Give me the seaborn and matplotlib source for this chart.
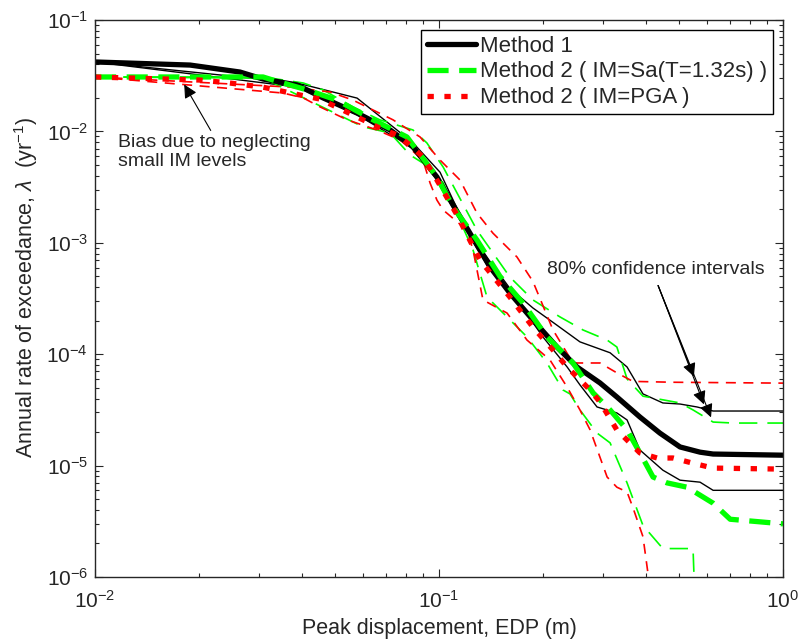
import matplotlib
matplotlib.use("Agg")
import matplotlib.pyplot as plt
import seaborn as sns

# EDP (m) and annual rate of exceedance (1/yr)
m1_x = [0.01, 0.0189, 0.0264, 0.0308, 0.0387, 0.046, 0.0578, 0.0721, 0.084, 0.0986, 0.1099, 0.123,
        0.1407, 0.1607, 0.1875, 0.2203, 0.2518, 0.2938, 0.3289, 0.3838, 0.4385, 0.502, 0.5739, 0.6263, 1.0]
m1_y = [0.042, 0.0394, 0.0341, 0.0295, 0.0261, 0.0200, 0.0146, 0.0103, 0.00725, 0.0039, 0.00218, 0.00122,
        6.07e-4, 3.54e-4, 2.03e-4, 1.16e-4, 7.68e-5, 5.52e-5, 4.13e-5, 2.73e-5, 1.96e-5, 1.47e-5, 1.32e-5,
        1.27e-5, 1.24e-5]

m1_hi_x = [0.01, 0.0387, 0.0578, 0.084, 0.1007, 0.1099, 0.1206, 0.1407, 0.1607, 0.1875, 0.2203, 0.2569,
           0.3143, 0.3521, 0.3917, 0.4474, 0.502, 0.5623, 0.6263, 1.0]
m1_hi_y = [0.042, 0.0272, 0.0199, 0.0079, 0.0043, 0.00242, 0.00135, 6.8e-4, 3.9e-4, 2.6e-4, 1.82e-4,
           1.29e-4, 1.03e-4, 7.68e-5, 4.4e-5, 3.65e-5, 3.57e-5, 3.36e-5, 3.09e-5, 3.09e-5]

m1_lo_x = [0.01, 0.0387, 0.0578, 0.084, 0.0986, 0.1128, 0.1407, 0.1685, 0.2005, 0.2356, 0.2569, 0.288,
           0.3289, 0.3521, 0.3838, 0.4474, 0.502, 0.5739, 0.6263, 1.0]
m1_lo_y = [0.042, 0.025, 0.0141, 0.0071, 0.00366, 0.00178, 5.7e-4, 3.07e-4, 1.43e-4, 7.7e-5, 5.3e-5,
           3.36e-5, 2.97e-5, 2.57e-5, 1.38e-5, 9.1e-6, 7.4e-6, 7.1e-6, 6.0e-6, 6.0e-6]

sa_x = [0.01, 0.0308, 0.0329, 0.0413, 0.0505, 0.0643, 0.0807, 0.0986, 0.1099, 0.1289, 0.1504, 0.1754,
        0.206, 0.2452, 0.2806, 0.3143, 0.3521, 0.3838, 0.4189, 0.4599, 0.5261, 0.6263, 0.7022, 1.0]
sa_y = [0.0308, 0.0308, 0.0289, 0.0236, 0.0191, 0.0127, 0.00891, 0.0039, 0.00209, 0.00106, 5.0e-4,
        2.88e-4, 1.43e-4, 8.34e-5, 4.49e-5, 3.16e-5, 2.09e-5, 1.30e-5, 7.9e-6, 7.0e-6, 6.4e-6, 4.6e-6,
        3.3e-6, 3.0e-6]

sa_hi_x = [0.01, 0.0308, 0.0403, 0.046, 0.0562, 0.0673, 0.084, 0.0922, 0.1028, 0.1289, 0.1607, 0.1875,
           0.2248, 0.2622, 0.3081, 0.3289, 0.3521, 0.3917, 0.502, 0.5476, 0.6263, 0.7161, 1.0]
sa_hi_y = [0.0308, 0.0308, 0.0272, 0.0236, 0.0166, 0.0127, 0.0103, 0.00788, 0.00479, 0.00130, 4.93e-4,
           3.07e-4, 2.16e-4, 1.65e-4, 1.34e-4, 1.16e-4, 6.0e-5, 4.2e-5, 3.65e-5, 3.16e-5, 2.46e-5,
           2.41e-5, 2.41e-5]

sa_lo_x = [0.01, 0.0308, 0.0601, 0.0721, 0.0824, 0.0898, 0.1028, 0.1256, 0.1379, 0.1577, 0.1802, 0.206,
           0.2294, 0.2403, 0.2569, 0.288, 0.3143, 0.3521, 0.3917, 0.4474, 0.5476, 0.5662]
sa_lo_y = [0.0308, 0.0301, 0.0110, 0.00968, 0.00614, 0.0052, 0.00344, 8.61e-4, 3.26e-4, 2.16e-4, 1.43e-4,
           8.34e-5, 4.77e-5, 4.4e-5, 3.16e-5, 1.96e-5, 1.6e-5, 7.0e-6, 2.9e-6, 1.8e-6, 1.8e-6, 1e-7]

pga_x = [0.01, 0.0202, 0.0246, 0.0307, 0.0395, 0.0451, 0.0601, 0.0673, 0.0755, 0.0824, 0.0898, 0.0986,
         0.1128, 0.1315, 0.1607, 0.1875, 0.2145, 0.2356, 0.275, 0.2938, 0.3289, 0.3838, 0.4305, 0.479,
         0.5476, 0.6263, 1.0]
pga_y = [0.0308, 0.0289, 0.0272, 0.025, 0.0212, 0.0195, 0.0127, 0.0107, 0.00929, 0.00755, 0.00589,
         0.00366, 0.00178, 7.0e-4, 3.26e-4, 1.75e-4, 1.09e-4, 7.68e-5, 4.77e-5, 3.72e-5, 2.09e-5,
         1.30e-5, 1.17e-5, 1.17e-5, 1.05e-5, 9.5e-6, 9.3e-6]

pga_hi_x = [0.01, 0.0369, 0.0482, 0.0562, 0.0735, 0.0881, 0.1007, 0.1151, 0.1289, 0.1435, 0.1685, 0.1875,
            0.2145, 0.2452, 0.2938, 0.3289, 0.3662, 0.4790, 1.0]
pga_hi_y = [0.0308, 0.0250, 0.0226, 0.0191, 0.0127, 0.00891, 0.00553, 0.00366, 0.00185, 0.00122,
            7.46e-4, 4.5e-4, 1.65e-4, 8.34e-5, 8.34e-5, 6.8e-5, 5.7e-5, 5.6e-5, 5.5e-5]

pga_lo_x = [0.01, 0.0352, 0.0403, 0.0451, 0.0541, 0.066, 0.0771, 0.0898, 0.0942, 0.0986, 0.1028, 0.1206,
            0.1256, 0.1342, 0.1577, 0.1802, 0.2102, 0.2356, 0.2569, 0.275, 0.3081, 0.3289, 0.3521,
            0.3662, 0.3917, 0.4055, 0.41]
pga_lo_y = [0.0308, 0.0221, 0.020, 0.0166, 0.0127, 0.0103, 0.00838, 0.00553, 0.00344, 0.00242, 0.00197,
            0.0013, 8.61e-4, 3.07e-4, 2.34e-4, 1.34e-4, 8.87e-5, 5.08e-5, 3.16e-5, 2.09e-5, 7.9e-6,
            6.4e-6, 5.8e-6, 4.2e-6, 2.3e-6, 1.05e-6, 1e-7]

legend_labels = ["Method 1", "Method 2 ( IM=Sa(T=1.32s) )", "Method 2 ( IM=PGA )"]

BLACK = "#000000"
GREEN = "#00ff00"
RED = "#ff0000"

sns.set_style("ticks")
plt.rcParams["font.family"] = ["Liberation Sans", "DejaVu Sans"]
plt.rcParams["mathtext.fontset"] = "custom"
plt.rcParams["mathtext.rm"] = "Liberation Sans"
plt.rcParams["mathtext.it"] = "Liberation Sans:italic"

fig = plt.figure(figsize=(7.98, 6.41), dpi=100)
ax = fig.add_axes([95 / 798, 1 - 577 / 641, (783 - 95) / 798, (577 - 20) / 641])
ax.set_xscale("log")
ax.set_yscale("log")

thin = 1.0
# confidence bounds
sns.lineplot(x=m1_hi_x, y=m1_hi_y, ax=ax, color=BLACK, lw=thin, errorbar=None, sort=False)
sns.lineplot(x=m1_lo_x, y=m1_lo_y, ax=ax, color=BLACK, lw=thin, errorbar=None, sort=False)
sns.lineplot(x=sa_hi_x, y=sa_hi_y, ax=ax, color=GREEN, lw=1.2, ls=(0, (11, 6)), errorbar=None, sort=False)
sns.lineplot(x=sa_lo_x, y=sa_lo_y, ax=ax, color=GREEN, lw=1.2, ls=(0, (11, 6)), errorbar=None, sort=False)
sns.lineplot(x=pga_hi_x, y=pga_hi_y, ax=ax, color=RED, lw=1.2, ls=(0, (6, 4.5)), errorbar=None, sort=False)
sns.lineplot(x=pga_lo_x, y=pga_lo_y, ax=ax, color=RED, lw=1.2, ls=(0, (6, 4.5)), errorbar=None, sort=False)

# means
thick = 3.8
sns.lineplot(x=m1_x, y=m1_y, ax=ax, color=BLACK, lw=thick, errorbar=None, sort=False)
sns.lineplot(x=sa_x, y=sa_y, ax=ax, color=GREEN, lw=thick, ls=(0, (4, 2)), errorbar=None, sort=False,
             dash_capstyle="butt")
sns.lineplot(x=pga_x, y=pga_y, ax=ax, color=RED, lw=thick, ls=(0, (1.2, 2.0)), errorbar=None, sort=False,
             dash_capstyle="butt")
mean_lines = ax.lines[-3:]

ax.set_xlim(0.01, 1)
ax.set_ylim(1e-6, 1e-1)
ax.set_xlabel("Peak displacement, EDP (m)", fontsize=15.5, labelpad=5)
ax.set_ylabel(r"Annual rate of exceedance, $\lambda$  (yr$^{-1}$)", fontsize=15.5)
ax.yaxis.set_label_coords(-0.080, 0.52)

ax.tick_params(which="both", direction="in", top=True, right=True, labelsize=15, width=0.8)
ax.tick_params(which="major", length=6)
ax.tick_params(axis="x", which="major", pad=9)
ax.tick_params(axis="y", which="major", pad=5)
ax.tick_params(which="minor", length=3)
for s in ax.spines.values():
    s.set_linewidth(1.0)
    s.set_visible(True)

ax.legend(mean_lines, legend_labels, loc="upper right", fontsize=16, frameon=True, fancybox=False,
          edgecolor="black", framealpha=1, borderpad=0.25, labelspacing=0.22, handlelength=2.2,
          handletextpad=0.2, borderaxespad=0.45)

# annotations
ax.annotate("", xy=(0.0180, 0.0277), xytext=(0.0219, 0.0097),
            arrowprops=dict(arrowstyle="-|>", color="black", lw=0.8, mutation_scale=20))
ax.text(0.01166, 0.0094, "Bias due to neglecting\nsmall IM levels", fontsize=14, ha="left", va="top",
        linespacing=1.1)

ax.text(0.4277, 5.7e-4, "80% confidence intervals", fontsize=14, ha="center", va="center")
for head in [(0.5546, 5.98e-5), (0.593, 3.36e-5), (0.622, 2.57e-5)]:
    ax.annotate("", xy=head, xytext=(0.4305, 4.36e-4),
                arrowprops=dict(arrowstyle="-|>", color="black", lw=0.8, mutation_scale=20))

fig.savefig("out.png", dpi=100)
